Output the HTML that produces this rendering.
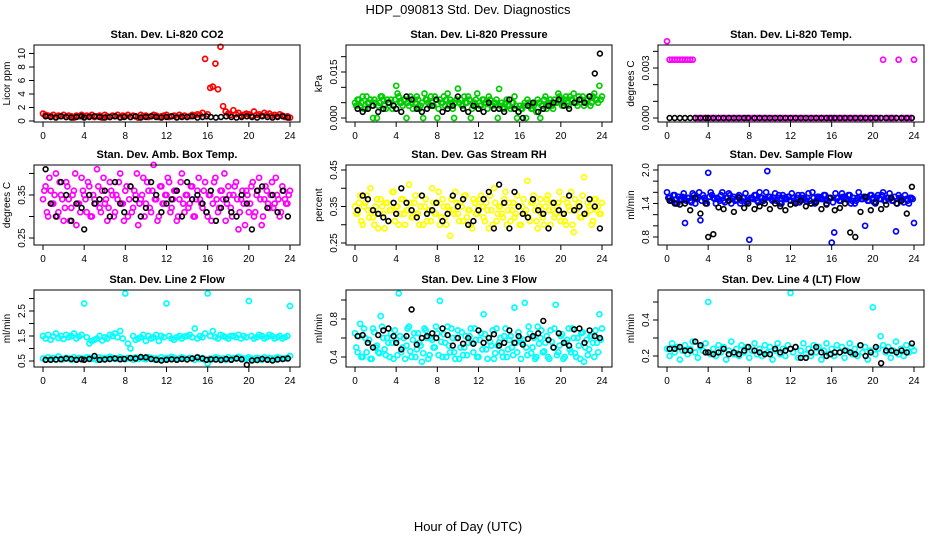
<!DOCTYPE html>
<html><head><meta charset="utf-8">
<style>
html,body{margin:0;padding:0;background:#fff;}
svg{display:block;font-family:"Liberation Sans",sans-serif;}
</style></head>
<body>
<svg id="chart" width="936" height="540" viewBox="0 0 936 540" xmlns="http://www.w3.org/2000/svg">
<text x="468" y="14" text-anchor="middle" font-size="13">HDP_090813  Std. Dev. Diagnostics</text>
<text x="468" y="531" text-anchor="middle" font-size="13">Hour of Day (UTC)</text>
</svg>
<script>
// shared hours
const hoursColor = [0,0.25,0.5,0.75,1,1.25,1.5,1.75,2,2.25,2.5,2.75,3,3.25,3.5,3.75,4,4.25,4.5,4.75,5,5.25,5.5,5.75,6,6.25,6.5,6.75,7,7.25,7.5,7.75,8,8.25,8.5,8.75,9,9.25,9.5,9.75,10,10.25,10.5,10.75,11,11.25,11.5,11.75,12,12.25,12.5,12.75,13,13.25,13.5,13.75,14,14.25,14.5,14.75,15,15.25,15.5,15.75,16,16.25,16.5,16.75,17,17.25,17.5,17.75,18,18.25,18.5,18.75,19,19.25,19.5,19.75,20,20.25,20.5,20.75,21,21.25,21.5,21.75,22,22.25,22.5,22.75,23,23.25,23.5,23.75,24];
const hoursColorB = [0.125,0.375,0.625,0.875,1.125,1.375,1.625,1.875,2.125,2.375,2.625,2.875,3.125,3.375,3.625,3.875,4.125,4.375,4.625,4.875,5.125,5.375,5.625,5.875,6.125,6.375,6.625,6.875,7.125,7.375,7.625,7.875,8.125,8.375,8.625,8.875,9.125,9.375,9.625,9.875,10.125,10.375,10.625,10.875,11.125,11.375,11.625,11.875,12.125,12.375,12.625,12.875,13.125,13.375,13.625,13.875,14.125,14.375,14.625,14.875,15.125,15.375,15.625,15.875,16.125,16.375,16.625,16.875,17.125,17.375,17.625,17.875,18.125,18.375,18.625,18.875,19.125,19.375,19.625,19.875,20.125,20.375,20.625,20.875,21.125,21.375,21.625,21.875,22.125,22.375,22.625,22.875,23.125,23.375,23.625,23.875];
const hoursBlack = [0.25,0.75,1.25,1.75,2.25,2.75,3.25,3.75,4,4.5,5,5.5,6,6.5,7,7.5,7.9,8.5,9,9.5,10,10.5,11,11.5,12,12.5,13,13.5,14,14.5,15,15.5,15.9,16.3,16.8,17.3,17.8,18.3,18.8,19.3,19.8,20.3,20.8,21.3,21.8,22.3,22.8,23.3,23.8];
const xTicks = [0,4,8,12,16,20,24];

// Panel 1: CO2 (ppm)
const co2Color = [1.1,0.9,0.8,0.7,0.9,0.6,0.8,0.7,0.9,0.6,0.8,0.7,0.5,0.8,0.7,0.9,0.6,0.8,0.7,0.9,0.6,0.7,0.8,0.5,0.9,0.7,0.6,0.8,0.7,0.9,0.6,0.8,0.7,0.9,0.6,0.8,0.7,0.5,0.9,0.7,0.8,0.6,0.7,0.9,0.8,0.6,0.7,0.8,0.9,0.6,0.7,0.8,0.6,0.9,0.7,0.8,0.6,0.7,0.9,0.8,1.0,0.9,1.2,9.2,1.0,4.9,5.1,8.5,4.7,11.0,2.2,1.4,1.1,0.9,1.6,1.0,1.2,0.8,0.9,1.1,1.0,0.8,1.4,0.9,1.0,0.8,1.2,0.9,1.1,0.8,0.9,0.7,1.0,0.8,0.6,0.7,0.5];
const co2Black = [0.7,0.6,0.5,0.7,0.6,0.5,0.6,0.7,0.5,0.6,0.7,0.6,0.5,0.6,0.7,0.5,0.6,0.6,0.7,0.5,0.6,0.7,0.6,0.5,0.6,0.7,0.5,0.6,0.6,0.7,0.5,0.6,0.7,0.6,0.5,0.6,0.7,0.6,0.5,0.6,0.7,0.6,0.5,0.7,0.6,0.5,0.6,0.7,0.5];
const co2Ticks = [0,2,4,6,8,10];
const co2TickLabels = ["0","2","4","6","8","10"];

// Panel 2: pressure (milli-kPa)
const presColor = [5,6,4,7,3,5,6,0,5,4,7,6,3,5,6,4,10.5,7,5,6,0,4,5,6,7,3,5,8,6,4,5,7,0,6,5,4,8,6,3,5,9.6,6,4,5,7,0,5,6,3,4,6,5,7,4,5,6,9.5,5,3,6,4,5,7,0,4,3,5,6,4,3,5,6,0,4,7,5,6,3,5,8,6,5,7,4,6,8,5,7,6,4,6,7,5,8,6,10.5,7];
const presColorB = [4,6,5,3,7,5,4,6,0,5,7,4,6,5,3,6,8,5,4,6,5,7,3,5,6,4,0,6,5,7,4,6,3,5,7,6,4,5,0,6,5,4,7,5,6,3,5,8,4,6,5,3,6,4,5,0,4,3,5,4,3,5,4,2,3,4,0,5,3,4,2,5,4,6,3,5,4,6,5,7,4,6,5,7,6,5,4,6,7,5,6,4,7,6,5,6];
const presBlack = [3,2,3,4,2,3,5,4,3,2,7,6,3,2,3,4,6,2,3,4,7,3,2,4,3,2,5,3,3,2,6,3,2,0,4,5,2,3,4,5,6,4,3,5,6,5,7,14.5,21];
const presTicks = [0,5,10,15,20];
const presTickLabels = ["0.000","","","0.015",""];

// Panel 3: Li-820 temp (milli-degC)
const tempColor = [4.6,3.5,3.5,3.5,3.5,3.5,3.5,3.5,3.5,3.5,3.5,0,0,0,0,0,0,0,0,0,0,0,0,0,0,0,0,0,0,0,0,0,0,0,0,0,0,0,0,0,0,0,0,0,0,0,0,0,0,0,0,0,0,0,0,0,0,0,0,0,0,0,0,0,0,0,0,0,0,0,0,0,0,0,0,0,0,0,0,0,0,0,0,0,3.5,0,0,0,0,0,3.5,0,0,0,0,0,3.5];
const tempBlack = [0,0,0,0,0,0,0,0,0,0,0,0,0,0,0,0,0,0,0,0,0,0,0,0,0,0,0,0,0,0,0,0,0,0,0,0,0,0,0,0,0,0,0,0,0,0,0,0,0];
const tempTicks = [0,1,2,3,4];
const tempTickLabels = ["0.000","","","0.003",""];

// Panel 4: box temp (centi-degC)
const boxColor = [34,37,30,36,33,40,31,35,29,38,34,32,36,28,33,39,35,31,37,30,34,41,32,36,33,29,38,35,31,34,40,33,36,30,37,32,35,28,34,39,33,36,31,42,34,30,37,33,35,38,32,36,29,34,40,31,35,33,37,30,36,34,32,38,30,35,33,39,31,36,34,29,37,32,35,38,27,34,33,36,31,37,30,35,39,28,34,36,32,38,33,35,30,37,34,33,36];
const boxColorB = [36,31,39,33,35,30,38,34,32,37,29,35,40,33,31,36,34,38,30,35,33,37,31,39,34,32,36,30,35,38,33,29,37,34,31,36,40,33,35,30,38,32,36,34,29,37,33,35,39,31,34,36,30,38,33,35,32,37,30,34,39,33,36,31,35,29,38,34,32,36,40,33,35,30,37,34,31,36,28,35,33,38,31,36,34,30,37,33,35,32,39,34,31,36,33,35];
const boxBlack = [41,33,30,38,35,29,33,32,27,35,33,34,36,30,38,33,31,37,34,30,32,38,35,31,33,34,36,30,38,34,35,33,31,36,29,32,34,31,30,35,33,27,36,37,32,35,31,36,30];
const boxTicks = [25,30,35,40];
const boxTickLabels = ["0.25","","0.35",""];

// Panel 5: RH (centi-percent)
const rhColor = [35,33,38,30,36,34,40,32,35,29,37,33,36,31,34,39,35,30,37,33,34,41,32,36,33,30,38,35,31,34,40,33,36,30,37,32,35,27,34,39,33,36,31,38,34,30,37,33,35,38,32,36,29,34,40,31,35,33,37,30,36,34,32,38,30,35,33,42,31,36,34,29,37,32,35,38,30,34,33,36,31,37,30,35,39,28,34,36,32,43,33,35,30,37,34,33,36];
const rhColorB = [33,36,31,35,38,32,34,30,37,33,35,29,36,34,39,31,35,33,37,30,34,36,32,38,33,35,30,37,34,31,36,33,39,32,35,30,34,37,33,36,31,35,38,32,34,29,36,33,37,35,31,34,38,30,36,33,35,32,39,34,31,36,33,35,30,37,34,32,36,38,31,35,33,30,37,34,36,32,35,39,33,31,36,34,30,37,35,32,38,33,36,34,31,37,35,33];
const rhBlack = [34,38,37,34,33,32,31,36,33,40,36,34,32,38,33,34,36,31,33,38,35,37,30,31,34,37,39,29,41,36,29,39,35,33,32,37,34,33,29,36,34,33,38,34,35,33,37,35,29];
const rhTicks = [25,30,35,40,45];
const rhTickLabels = ["0.25","","0.35","","0.45"];

// Panel 6: sample flow (centi-ml/min)
const sfColor = [160,150,145,155,140,148,152,105,150,145,158,140,150,110,155,145,195,160,150,140,148,155,145,150,158,140,152,147,155,145,150,142,75,150,155,145,160,150,148,198,152,145,158,150,140,155,148,152,145,150,142,155,148,150,145,158,140,150,145,152,148,155,140,150,70,88,150,145,158,150,148,155,145,140,150,152,148,100,145,155,150,140,155,148,160,145,150,150,145,90,155,150,142,148,140,150,105];
const sfColorB = [150,145,155,140,152,148,158,145,150,142,155,148,160,145,150,140,152,155,148,150,145,160,142,150,155,148,145,152,140,150,158,145,150,148,155,142,150,145,160,152,148,150,145,155,140,150,148,152,158,145,150,142,155,148,150,145,160,140,152,150,148,155,145,150,142,158,150,145,152,148,155,140,150,145,160,148,152,150,145,155,142,150,148,155,145,150,158,145,152,140,150,148,155,145,150,148];
const sfBlack = [145,140,138,140,128,150,122,140,80,85,133,130,145,125,150,132,140,130,135,140,130,140,135,128,138,140,145,135,140,142,130,138,150,128,132,140,88,80,125,152,128,142,130,138,150,140,145,122,170];
const sfTicks = [80,100,120,140,160,180,200];
const sfTickLabels = ["0.8","","","1.4","","","2.0"];

// Panel 7: line 2 flow (centi-ml/min)
const l2ColorUpper = [150,140,155,135,148,160,142,150,138,155,145,150,160,140,148,155,280,145,120,130,135,140,150,132,145,140,155,150,160,145,170,140,320,120,100,150,135,140,145,155,130,150,140,145,155,130,150,145,280,150,140,135,145,150,140,148,150,155,145,180,140,150,145,160,320,150,170,145,140,155,150,145,140,150,150,145,155,140,150,145,290,150,140,145,155,150,140,145,155,150,140,145,150,140,145,150,270];
const l2ColorLower = [60,55,65,58,62,55,68,60,57,63,60,55,65,58,62,60,57,65,63,58,60,55,65,58,62,60,67,63,58,60,65,60,57,63,60,55,65,58,62,60,57,65,63,58,60,55,65,58,62,60,67,63,58,60,65,60,57,63,60,55,65,58,62,55,40,60,57,65,63,58,60,55,65,58,62,60,67,63,58,60,65,60,57,63,60,55,65,58,62,60,57,65,63,58,60,62,70];
const l2Black = [55,55,56,57,60,58,55,57,55,58,70,55,56,58,60,57,58,62,60,66,65,58,55,52,55,57,55,58,56,60,65,60,55,57,56,54,58,55,60,57,35,52,54,58,55,52,56,58,60];
const l2Ticks = [50,100,150,200,250,300];
const l2TickLabels = ["0.5","","1.5","","2.5",""];

// Panel 8: line 3 flow (centi-ml/min)
const l3Color = [65,45,75,40,60,55,38,70,50,45,83,60,42,55,65,38,58,107,45,60,52,72,40,65,48,55,35,70,60,42,58,50,65,99,40,55,72,45,60,38,68,50,42,62,55,70,45,58,40,65,85,48,60,52,38,70,55,45,62,40,58,50,92,45,60,55,97,42,65,50,38,72,60,45,55,40,68,50,95,45,62,38,55,70,45,60,40,52,65,35,58,48,62,40,55,85,70];
const l3ColorB = [50,62,40,70,45,58,38,66,52,44,72,48,60,40,55,68,42,62,50,38,70,46,58,40,65,52,44,68,38,60,50,72,42,56,64,40,52,70,45,60,38,66,50,42,62,55,70,40,58,48,64,38,56,68,44,52,60,40,70,48,62,42,55,66,38,58,50,72,44,60,40,54,68,46,62,38,56,70,42,52,64,40,58,48,70,44,60,38,66,50,42,62,55,68,45,58];
const l3Black = [62,63,55,50,63,68,70,62,55,48,62,90,53,60,62,65,60,70,63,52,60,54,60,54,68,55,60,64,52,55,68,55,62,53,59,62,65,78,58,50,65,55,52,69,70,55,68,62,60];
const l3Ticks = [40,60,80,100];
const l3TickLabels = ["0.4","","0.8",""];

// Panel 9: line 4 flow (centi-ml/min)
const l4Color = [24,20,27,22,25,18,23,26,21,24,28,22,19,25,23,27,50,21,24,20,26,22,25,18,23,28,21,24,20,26,22,25,19,23,27,21,24,20,26,22,25,18,23,27,21,24,20,26,55,22,25,19,23,27,21,24,20,26,22,25,18,23,27,21,24,20,26,22,25,19,23,27,21,24,20,26,22,25,18,23,47,21,24,31,26,22,25,19,23,28,21,24,20,26,22,25,23];
const l4Black = [24,24,25,23,23,28,26,22,22,21,22,24,21,22,21,23,25,23,22,21,21,24,22,23,24,25,19,19,22,25,22,20,21,22,22,23,22,21,26,20,22,25,16,23,23,22,23,22,27];
const l4Ticks = [20,30,40,50];
const l4TickLabels = ["0.2","","0.4",""];

const NS = "http://www.w3.org/2000/svg";
const svg = document.getElementById('chart');
function mk(tag, attrs, parent){
  const e = document.createElementNS(NS, tag);
  for (const k in attrs) e.setAttribute(k, attrs[k]);
  (parent||svg).appendChild(e);
  return e;
}

const colLeft = [34, 346, 658];
const rowTop = [45, 165, 290];
const rowBot = [122, 245, 367];
const panels = [
 {key:'co2', title:'Stan. Dev. Li-820 CO2', ylab:'Licor ppm', col:'#ff0000', series:[[hoursColor,co2Color]], black:co2Black, ticks:co2Ticks, labels:co2TickLabels, cal:[0,121,8,67]},
 {key:'pressure', title:'Stan. Dev. Li-820 Pressure', ylab:'kPa', col:'#00cd00', series:[[hoursColor,presColor],[hoursColorB,presColorB]], black:presBlack, ticks:presTicks, labels:presTickLabels, cal:[0,118,15,72]},
 {key:'li820-temp', title:'Stan. Dev. Li-820 Temp.', ylab:'degrees C', col:'#ff00ff', series:[[hoursColor,tempColor]], black:tempBlack, ticks:tempTicks, labels:tempTickLabels, cal:[0,118,3,68]},
 {key:'box-temp', title:'Stan. Dev. Amb. Box Temp.', ylab:'degrees C', col:'#ff00ff', series:[[hoursColor,boxColor],[hoursColorB,boxColorB]], black:boxBlack, ticks:boxTicks, labels:boxTickLabels, cal:[25,238,35,195]},
 {key:'rh', title:'Stan. Dev. Gas Stream RH', ylab:'percent', col:'#ffff00', series:[[hoursColor,rhColor],[hoursColorB,rhColorB]], black:rhBlack, ticks:rhTicks, labels:rhTickLabels, cal:[25,243,45,170]},
 {key:'sample-flow', title:'Stan. Dev. Sample Flow', ylab:'ml/min', col:'#0000ff', series:[[hoursColor,sfColor],[hoursColorB,sfColorB]], black:sfBlack, ticks:sfTicks, labels:sfTickLabels, cal:[80,237,200,170]},
 {key:'line2-flow', title:'Stan. Dev. Line 2 Flow', ylab:'ml/min', col:'#00ffff', series:[[hoursColor,l2ColorUpper],[hoursColor,l2ColorLower]], black:l2Black, ticks:l2Ticks, labels:l2TickLabels, cal:[50,361,150,336]},
 {key:'line3-flow', title:'Stan. Dev. Line 3 Flow', ylab:'ml/min', col:'#00ffff', series:[[hoursColor,l3Color],[hoursColorB,l3ColorB]], black:l3Black, ticks:l3Ticks, labels:l3TickLabels, cal:[40,357,80,319]},
 {key:'line4-flow', title:'Stan. Dev. Line 4 (LT) Flow', ylab:'ml/min', col:'#00ffff', series:[[hoursColor,l4Color]], black:l4Black, ticks:l4Ticks, labels:l4TickLabels, cal:[20,356,40,320]}
];

panels.forEach((p, i) => {
  const L = colLeft[i % 3], R = L + 266;
  const T = rowTop[Math.floor(i / 3)], B = rowBot[Math.floor(i / 3)];
  const xS = h => L + 9 + h * (247 / 24);
  const yS = v => p.cal[1] + (v - p.cal[0]) * (p.cal[3] - p.cal[1]) / (p.cal[2] - p.cal[0]);
  const g = mk('g', {});
  
  
  const t = mk('text', {x:(L+R)/2, y:T-7, 'text-anchor':'middle', 'font-size':'11', 'font-weight':'bold'}, g);
  t.textContent = p.title;
  
  
  const pts = mk('g', {}, g);
  
  
  p.series.forEach(s => {
    const hrs = s[0], arr = s[1];
    arr.forEach((v, j) => {
      const c = mk('circle', {cx:xS(hrs[j]).toFixed(1), cy:yS(v).toFixed(1), r:'2.5', fill:'none', stroke:p.col, 'stroke-width':'1.7'}, pts);
      
      
    });
  });
  p.black.forEach((v, j) => {
    const c = mk('circle', {cx:xS(hoursBlack[j]).toFixed(1), cy:yS(v).toFixed(1), r:'2.4', fill:'none', stroke:'#000', 'stroke-width':'1.6'}, pts);
    
    
  });
  const box = mk('rect', {x:L, y:T, width:R-L, height:B-T, fill:'none', stroke:'#000', 'stroke-width':'1'}, g);
  
  
  xTicks.forEach(h => {
    mk('line', {x1:xS(h), x2:xS(h), y1:B, y2:B+5, stroke:'#000'}, g);
    const tl = mk('text', {x:xS(h), y:B+17, 'text-anchor':'middle', 'font-size':'10'}, g);
    tl.textContent = h;
    
    
  });
  p.ticks.forEach((v, k) => {
    const y = yS(v);
    mk('line', {x1:L-5, x2:L, y1:y, y2:y, stroke:'#000'}, g);
    if (p.labels[k]) {
      const tl = mk('text', {x:L-9, y:y, 'text-anchor':'middle', 'font-size':'10', transform:'rotate(-90 ' + (L-9) + ' ' + y + ')'}, g);
      tl.textContent = p.labels[k];
      
      
    }
  });
  const yl = L - 24, ym = (T + B) / 2;
  const ytl = mk('text', {x:yl, y:ym, 'text-anchor':'middle', 'font-size':'10', transform:'rotate(-90 ' + yl + ' ' + ym + ')'}, g);
  ytl.textContent = p.ylab;
  
  
});
</script>
</body></html>
